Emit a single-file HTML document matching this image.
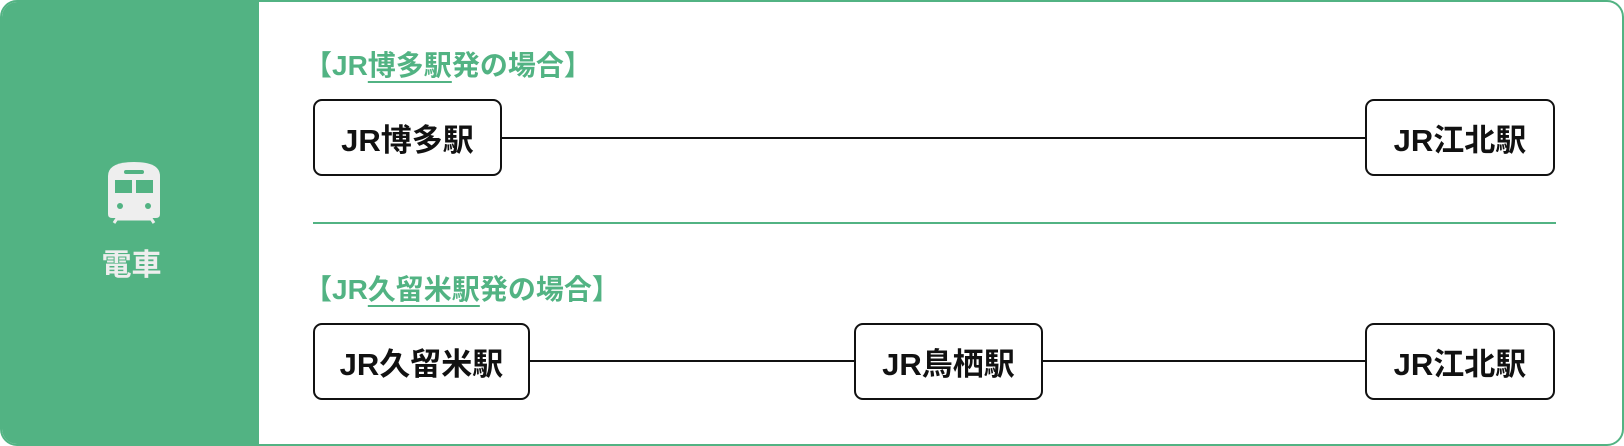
<!DOCTYPE html>
<html><head><meta charset="utf-8"><style>
body{margin:0;width:1624px;height:446px;background:#fff;font-family:"Liberation Sans","Noto Sans CJK JP",sans-serif;overflow:hidden}
.wrap{position:absolute;left:0;top:0;width:1620px;height:442px;border:2px solid #52b383;border-radius:17px;overflow:hidden;background:#fff}
.side{position:absolute;left:0;top:0;width:257px;height:100%;background:#52b383}
.t{position:absolute;color:#52b383;font-weight:700;font-size:28px;white-space:nowrap;line-height:1}
.t u{text-decoration-thickness:2px;text-underline-offset:6px}
.b{position:absolute;border:2px solid #111;border-radius:9px;box-sizing:border-box;display:flex;align-items:center;justify-content:center;font-weight:700;font-size:31px;color:#111;background:#fff}
.l{position:absolute;height:2px;background:#111}
</style></head><body>
<div class="wrap">
<div class="side">
<svg style="position:absolute;left:104px;top:158px" width="56" height="64" viewBox="0 0 56 64">
<path d="M2 16 Q2 2 28 2 Q54 2 54 16 V54 Q54 58 50 58 H6 Q2 58 2 54Z" fill="#eee"/>
<rect x="18" y="10" width="20" height="4" rx="2" fill="#52b383"/>
<rect x="9" y="20" width="17" height="13" fill="#52b383"/>
<rect x="30" y="20" width="17" height="13" fill="#52b383"/>
<circle cx="14" cy="46" r="3" fill="#52b383"/><circle cx="42" cy="46" r="3" fill="#52b383"/>
<path d="M8 63 L14 54 M48 63 L42 54 M11 59 H45" stroke="#eee" stroke-width="3" fill="none"/>
</svg>
<div style="position:absolute;left:0;width:259px;top:249px;text-align:center;color:#eee;font-weight:700;font-size:30px;line-height:1">電車</div>
</div>
<div class="t" style="left:302px;top:50px">【JR<u>博多駅</u>発の場合】</div>
<div class="b" style="left:311px;top:97px;width:189px;height:77px">JR博多駅</div>
<div class="l" style="left:500px;top:135px;width:863px"></div>
<div class="b" style="left:1363px;top:97px;width:190px;height:77px">JR江北駅</div>
<div style="position:absolute;left:311px;top:220px;width:1243px;height:2px;background:#52b383"></div>
<div class="t" style="left:302px;top:274px">【JR<u>久留米駅</u>発の場合】</div>
<div class="b" style="left:311px;top:321px;width:217px;height:77px">JR久留米駅</div>
<div class="l" style="left:528px;top:358px;width:324px"></div>
<div class="b" style="left:852px;top:321px;width:189px;height:77px">JR鳥栖駅</div>
<div class="l" style="left:1041px;top:358px;width:322px"></div>
<div class="b" style="left:1363px;top:321px;width:190px;height:77px">JR江北駅</div>
</div>
</body></html>
